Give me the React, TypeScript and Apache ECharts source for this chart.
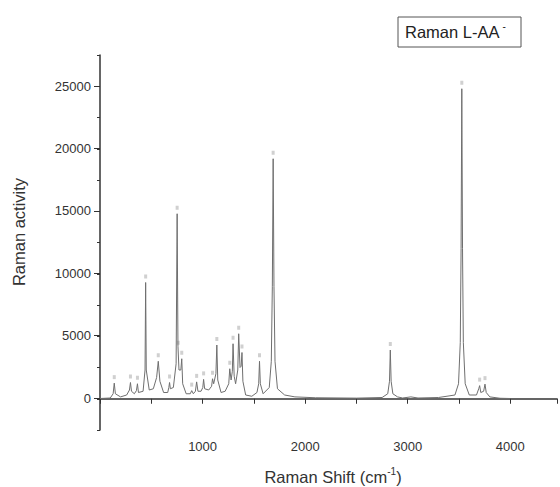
import React, { useEffect, useRef } from "react";
import * as echarts from "echarts";

// Raman shift (cm-1) and Raman activity
const shifts = [
  0, 100, 128, 139, 150, 200, 260, 287, 297, 307, 335, 355, 365, 375, 420, 439, 445, 451, 480, 520,
  552, 568, 584, 620, 660, 671, 678, 686, 715, 742, 752, 760, 770, 788, 797, 806, 840, 880, 894, 910,
  930, 942, 955, 985, 1002, 1010, 1020, 1060, 1088, 1097, 1108, 1130, 1139, 1148, 1180, 1220, 1255, 1265, 1278, 1290,
  1297, 1308, 1322, 1343, 1352, 1365, 1376, 1384, 1393, 1420, 1480, 1530, 1547, 1555, 1563, 1590, 1650, 1670, 1680, 1688,
  1696, 1706, 1730, 1800, 1900, 2100, 2500, 2750, 2805, 2822, 2830, 2838, 2855, 2900, 2950, 3030, 3100, 3300, 3460, 3495,
  3512, 3520, 3527, 3534, 3542, 3560, 3600, 3670, 3692, 3701, 3712, 3740, 3753, 3765, 3800, 3900, 4000,
];
const activity = [
  20, 60, 400, 1250, 400, 150, 300, 700, 1300, 600, 400, 650, 1200, 500, 600, 2300, 9300, 2300, 700, 800,
  1700, 3000, 1400, 500, 500, 900, 1300, 800, 900, 2800, 14800, 4200, 2300, 2300, 3200, 1200, 400, 400, 650, 400,
  600, 1350, 600, 600, 900, 1550, 800, 700, 1000, 1600, 1200, 2000, 4300, 1500, 500, 600, 1200, 2400, 1500, 2200,
  4400, 1800, 1200, 2300, 5200, 2500, 2600, 3700, 1400, 300, 200, 500, 1200, 3000, 1200, 400, 900, 3000, 9000, 19200,
  9000, 3000, 800, 300, 150, 80, 50, 100, 400, 1400, 3900, 1400, 400, 150, 60, 150, 60, 100, 300, 1200,
  4500, 12000, 24800, 12000, 4500, 1200, 300, 300, 800, 1050, 500, 600, 1170, 500, 150, 40, 20,
];

// labelled peak positions
const peakShifts = [139, 297, 365, 445, 568, 678, 752, 762, 797, 894, 942, 1010, 1097, 1139, 1265, 1297, 1352, 1384, 1555, 1688, 2830, 3527, 3701, 3753];
const peakActivity = [1250, 1300, 1200, 9300, 3000, 1300, 14800, 4000, 3200, 650, 1350, 1550, 1600, 4300, 2400, 4400, 5200, 3700, 3000, 19200, 3900, 24800, 1050, 1170];

const yTickLabels = [0, 5000, 10000, 15000, 20000, 25000];
const xTickLabels = [1000, 2000, 3000, 4000];

export default function App() {
  const ref = useRef<HTMLDivElement>(null);
  useEffect(() => {
    document.body.style.margin = "0";
    if (!ref.current) return;
    const chart = echarts.init(ref.current, null, { renderer: "svg" });
    const font = "Liberation Sans, Arial, sans-serif";
    const axisColor = "#333";
    chart.setOption({
      animation: false,
      backgroundColor: "#fff",
      grid: [
        { left: 100, right: 0, top: 55, bottom: 57 },
        { left: 100, right: 0, top: 86, bottom: 89 },
      ],
      xAxis: [
        {
          type: "value",
          gridIndex: 0,
          min: 0,
          max: 4455,
          interval: 500,
          axisLine: { show: true, lineStyle: { color: axisColor, width: 1.5 } },
          axisTick: { show: true, length: 5, lineStyle: { color: axisColor } },
          splitLine: { show: false },
          axisLabel: {
            color: "#333",
            fontFamily: font,
            fontSize: 13,
            margin: 10,
            formatter: (v: number) => (xTickLabels.includes(v) ? String(v) : ""),
          },
        },
        { type: "value", gridIndex: 1, min: 0, max: 1, show: false },
      ],
      yAxis: [
        {
          type: "value",
          gridIndex: 0,
          min: -2500,
          max: 27500,
          interval: 2500,
          axisLine: { show: true, lineStyle: { color: axisColor, width: 1.5 } },
          axisTick: { show: true, length: 3, lineStyle: { color: axisColor } },
          axisLabel: { show: false },
          splitLine: { show: false },
        },
        {
          type: "value",
          gridIndex: 1,
          min: 0,
          max: 25000,
          interval: 5000,
          axisLine: { show: false },
          axisTick: { show: true, length: 6, lineStyle: { color: axisColor } },
          axisLabel: {
            color: "#333",
            fontFamily: font,
            fontSize: 13,
            margin: 9,
            formatter: (v: number) => (yTickLabels.includes(v) ? String(v) : ""),
          },
          splitLine: { show: false },
        },
      ],
      series: [
        {
          type: "line",
          xAxisIndex: 0,
          yAxisIndex: 0,
          data: shifts.map((s, i) => [s, activity[i]]),
          showSymbol: false,
          symbol: "none",
          lineStyle: { color: "#6f6f6f", width: 1 },
          z: 3,
        },
        {
          type: "scatter",
          xAxisIndex: 0,
          yAxisIndex: 0,
          data: peakShifts.map((s, i) => [s, peakActivity[i]]),
          symbol: "rect",
          symbolSize: [3, 4],
          symbolOffset: [0, -6],
          itemStyle: { color: "#c4c4c4" },
          z: 2,
        },
      ],
      graphic: [
        {
          type: "rect",
          shape: { x: 398, y: 17, width: 123, height: 30 },
          style: { fill: "#fff", stroke: "#555", lineWidth: 1 },
        },
        {
          type: "text",
          x: 405,
          y: 32,
          style: {
            text: "Raman L-AA{sup|-}",
            fontFamily: font,
            fontSize: 16.5,
            fill: "#222",
            verticalAlign: "middle",
            rich: {
              sup: { fontSize: 10, fontFamily: font, fill: "#222", verticalAlign: "top", padding: [0, 0, 12, 3] },
            },
          },
        },
        {
          type: "text",
          x: 19,
          y: 232,
          rotation: Math.PI / 2,
          style: {
            text: "Raman activity",
            fontFamily: font,
            fontSize: 16.5,
            fill: "#333",
            align: "center",
            verticalAlign: "middle",
          },
        },
        {
          type: "text",
          x: 333,
          y: 477,
          style: {
            text: "Raman Shift (cm{sup|-1})",
            fontFamily: font,
            fontSize: 16.5,
            fill: "#333",
            align: "center",
            verticalAlign: "middle",
            rich: {
              sup: { fontSize: 10, fontFamily: font, fill: "#333", verticalAlign: "top", padding: [0, 0, 11, 0] },
            },
          },
        },
      ],
    });
    return () => chart.dispose();
  }, []);
  return <div ref={ref} style={{ width: 560, height: 487 }} />;
}
